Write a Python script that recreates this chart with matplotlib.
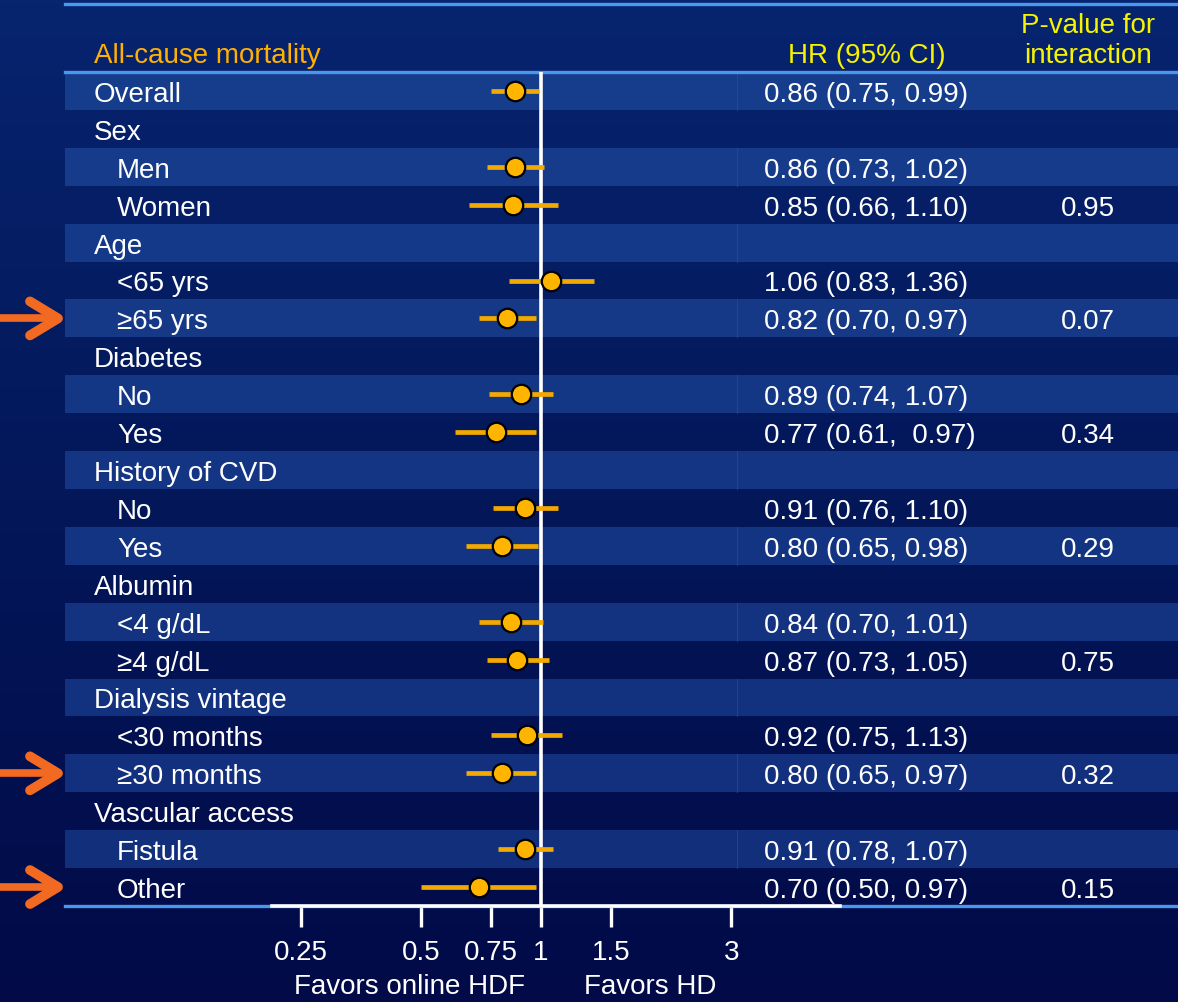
import numpy as np
import matplotlib
matplotlib.use("Agg")
import matplotlib.pyplot as plt
from matplotlib import transforms
from matplotlib.lines import Line2D
from matplotlib.colors import LinearSegmentedColormap

plt.rcParams['font.family'] = ['Liberation Sans', 'DejaVu Sans']

# ---- data -------------------------------------------------------------
row_labels = ["Overall", "Sex", "Men", "Women", "Age", "<65 yrs", "\u226565 yrs",
              "Diabetes", "No", "Yes", "History of CVD", "No", "Yes",
              "Albumin", "<4 g/dL", "\u22654 g/dL", "Dialysis vintage",
              "<30 months", "\u226530 months", "Vascular access", "Fistula", "Other"]
is_subgroup = [0, 0, 1, 1, 0, 1, 1, 0, 1, 1, 0, 1, 1, 0, 1, 1, 0, 1, 1, 0, 1, 1]
nan = np.nan
hr = [0.86, nan, 0.86, 0.85, nan, 1.06, 0.82, nan, 0.89, 0.77, nan, 0.91, 0.80,
      nan, 0.84, 0.87, nan, 0.92, 0.80, nan, 0.91, 0.70]
ci_low = [0.75, nan, 0.73, 0.66, nan, 0.83, 0.70, nan, 0.74, 0.61, nan, 0.76, 0.65,
          nan, 0.70, 0.73, nan, 0.75, 0.65, nan, 0.78, 0.50]
ci_high = [0.99, nan, 1.02, 1.10, nan, 1.36, 0.97, nan, 1.07, 0.97, nan, 1.10, 0.98,
           nan, 1.01, 1.05, nan, 1.13, 0.97, nan, 1.07, 0.97]
p_interaction = ["", "", "", "0.95", "", "", "0.07", "", "", "0.34", "", "", "0.29",
                 "", "", "0.75", "", "", "0.32", "", "", "0.15"]
flagged_rows = [6, 18, 21]
wide_sep_rows = [9]
tick_values = [0.25, 0.5, 0.75, 1, 1.5, 3]
tick_labels = ["0.25", "0.5", "0.75", "1", "1.5", "3"]

# ---- figure ----------------------------------------------------------
W, H = 1178, 1003
fig = plt.figure(figsize=(W / 100, H / 100), dpi=100)

def fx(px):
    return px / W

def fy(py):
    return 1 - py / H

# background gradient
bg = fig.add_axes([0, 0, 1, 1], zorder=-10)
bg.axis('off')
cmap = LinearSegmentedColormap.from_list('navy', ['#07246f', '#031759', '#020a48'])
grad = np.linspace(0, 1, 256).reshape(-1, 1)
bg.imshow(grad, aspect='auto', cmap=cmap, extent=[0, 1, 0, 1], origin='upper')
bg.set_xlim(0, 1)
bg.set_ylim(0, 1)

# forest axes: 120 px per doubling, HR = 1 at x = 541 px
ax_l, ax_r, ax_t, ax_b = 65, 1178, 73, 907
ax = fig.add_axes([fx(ax_l), fy(ax_b), fx(ax_r - ax_l), (ax_b - ax_t) / H])
ax.patch.set_alpha(0)
ax.set_xscale('log', base=2)
ax.set_xlim(2 ** ((ax_l - 541) / 120), 2 ** ((ax_r - 541) / 120))
n = len(row_labels)
ax.set_ylim(n - 0.5, -0.5)
row_px = (ax_b - ax_t) / n
txt_dy = 3 / row_px  # nudge text slightly below row centre

# striped rows
top_c = np.array([22, 60, 140]) / 255
bot_c = np.array([17, 46, 122]) / 255
split_x = (737 - ax_l) / (ax_r - ax_l)
ytrans = transforms.blended_transform_factory(ax.transAxes, ax.transData)
for i in range(0, n, 2):
    t = i / (n - 1)
    ax.axhspan(i - 0.5, i + 0.5, color=top_c * (1 - t) + bot_c * t, lw=0, zorder=0)
    ax.plot([split_x, split_x], [i - 0.5, i + 0.5], transform=ytrans,
            color='#2a4fa0', lw=0.8, alpha=0.6, zorder=0.5)

# reference line
ax.axvline(1, color='white', lw=2.6, zorder=3)

y = np.arange(n)
ax.hlines(y, ci_low, ci_high, color='#f2a900', lw=3.4, zorder=4)
ax.plot(hr, y, 'o', ms=14, mfc='#ffb400', mec='black', mew=1.6, zorder=5,
        clip_on=False)

# axis styling
for s in ['top', 'left', 'right']:
    ax.spines[s].set_visible(False)
ax.spines['bottom'].set_color('white')
ax.spines['bottom'].set_linewidth(2.6)
ax.spines['bottom'].set_zorder(6)
ax.spines['bottom'].set_bounds(2 ** ((272 - 541) / 120), 2 ** ((840 - 541) / 120))
ax.set_xticks(tick_values)
ax.set_xticklabels(tick_labels)
ax.xaxis.set_minor_locator(matplotlib.ticker.NullLocator())
ax.tick_params(axis='x', direction='out', length=15, width=2.4, color='white',
               labelcolor='white', labelsize=20, pad=9)
ax.set_yticks([])

# horizontal rules
line_blue = '#4a98ec'
ax.plot([0, 1], [0, 0], transform=ax.transAxes, color=line_blue, lw=2.4,
        zorder=2, clip_on=False)
ax.plot([0, 1], [1, 1], transform=ax.transAxes, color=line_blue, lw=2.4,
        zorder=2, clip_on=False)
fig.add_artist(Line2D([fx(ax_l), 1], [fy(5), fy(5)], color=line_blue, lw=2.4,
                      transform=fig.transFigure))

# row text
rtrans = transforms.blended_transform_factory(fig.transFigure, ax.transData)
for i, lab in enumerate(row_labels):
    ty = i + txt_dy
    ax.text(fx(117 if is_subgroup[i] else 94), ty, lab, transform=rtrans,
            color='white', fontsize=20, va='center', ha='left', zorder=7)
    if not np.isnan(hr[i]):
        sep = ",  " if i in wide_sep_rows else ", "
        ax.text(fx(764), ty, f"{hr[i]:.2f} ({ci_low[i]:.2f}{sep}{ci_high[i]:.2f})",
                transform=rtrans, color='white', fontsize=20, va='center',
                ha='left', zorder=7)
    if p_interaction[i]:
        ax.text(fx(1088), ty, p_interaction[i], transform=rtrans, color='white',
                fontsize=20, va='center', ha='center', zorder=7)

# headers
fig.text(fx(94), fy(56), "All-cause mortality", color='#ffb000', fontsize=20,
         va='center', ha='left')
fig.text(fx(867), fy(56), "HR (95% CI)", color='#f6f200', fontsize=20,
         va='center', ha='center')
fig.text(fx(1088), fy(26), "P-value for", color='#f6f200', fontsize=20,
         va='center', ha='center')
fig.text(fx(1088), fy(56), "interaction", color='#f6f200', fontsize=20,
         va='center', ha='center')

# direction labels
fig.text(fx(409), fy(987), "Favors online HDF", color='white', fontsize=20,
         va='center', ha='center')
fig.text(fx(650), fy(987), "Favors HD", color='white', fontsize=20,
         va='center', ha='center')

# pointer arrows for highlighted subgroups
arrow_c = '#f26a22'
for r in flagged_rows:
    dy = 17 / row_px
    ax.plot([fx(0), fx(55)], [r, r], transform=rtrans, color=arrow_c, lw=5.5,
            solid_capstyle='round', clip_on=False, zorder=8)
    ax.plot([fx(30), fx(58), fx(30)], [r - dy, r, r + dy], transform=rtrans,
            color=arrow_c, lw=7, solid_capstyle='round',
            solid_joinstyle='round', clip_on=False, zorder=8)

fig.savefig('out.png', dpi=100)
